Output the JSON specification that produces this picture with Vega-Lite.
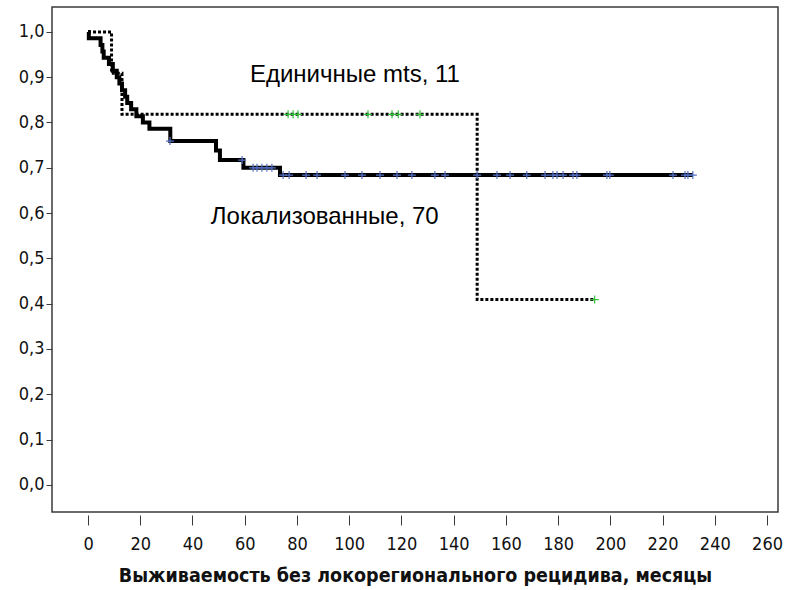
{
  "$schema": "https://vega.github.io/schema/vega-lite/v6.json",
  "width": 726,
  "height": 505,
  "autosize": {"type": "none"},
  "padding": {"left": 52, "top": 7, "right": 9, "bottom": 78},
  "background": "white",
  "config": {
    "view": {"stroke": "#3a3a3a", "strokeWidth": 1.5},
    "font": "DejaVu Sans Condensed, Liberation Sans, sans-serif",
    "axis": {"labelFont": "DejaVu Sans Condensed, Liberation Sans, sans-serif", "titleFont": "DejaVu Sans Condensed, Liberation Sans, sans-serif", "grid": false, "domain": false, "tickColor": "#3a3a3a", "labelColor": "#111", "titleColor": "#111"}
  },
  "datasets": {
    "solid": [
      {"t": 0, "s": 1.0}, {"t": 0.3, "s": 0.986}, {"t": 4.8, "s": 0.971}, {"t": 5.5, "s": 0.957},
      {"t": 6, "s": 0.943}, {"t": 8, "s": 0.929}, {"t": 9.5, "s": 0.914}, {"t": 11, "s": 0.9},
      {"t": 12, "s": 0.886}, {"t": 13, "s": 0.871}, {"t": 14.2, "s": 0.857}, {"t": 15, "s": 0.843},
      {"t": 16.5, "s": 0.829}, {"t": 18.5, "s": 0.814}, {"t": 21, "s": 0.8}, {"t": 23.5, "s": 0.786},
      {"t": 31.5, "s": 0.759}, {"t": 49, "s": 0.738}, {"t": 50.5, "s": 0.717}, {"t": 59.5, "s": 0.7},
      {"t": 73.5, "s": 0.684}, {"t": 231.6, "s": 0.684}
    ],
    "dotted": [
      {"t": 0, "s": 1.0}, {"t": 9, "s": 0.909}, {"t": 13, "s": 0.818}, {"t": 149, "s": 0.409}, {"t": 194, "s": 0.409}
    ],
    "cens": [
      {"g": "solid", "t": 31.4, "s": 0.759},
      {"g": "solid", "t": 59, "s": 0.717},
      {"g": "solid", "t": 63.2, "s": 0.7}, {"g": "solid", "t": 64.7, "s": 0.7}, {"g": "solid", "t": 66.6, "s": 0.7},
      {"g": "solid", "t": 68.5, "s": 0.7}, {"g": "solid", "t": 70.4, "s": 0.7},
      {"g": "solid", "t": 74.7, "s": 0.684}, {"g": "solid", "t": 77.0, "s": 0.684}, {"g": "solid", "t": 83.5, "s": 0.684},
      {"g": "solid", "t": 87.7, "s": 0.684}, {"g": "solid", "t": 98.4, "s": 0.684}, {"g": "solid", "t": 104.9, "s": 0.684},
      {"g": "solid", "t": 111.8, "s": 0.684}, {"g": "solid", "t": 118.3, "s": 0.684}, {"g": "solid", "t": 124, "s": 0.684},
      {"g": "solid", "t": 132.8, "s": 0.684}, {"g": "solid", "t": 136.7, "s": 0.684}, {"g": "solid", "t": 149, "s": 0.684},
      {"g": "solid", "t": 156.6, "s": 0.684}, {"g": "solid", "t": 161.6, "s": 0.684}, {"g": "solid", "t": 168, "s": 0.684},
      {"g": "solid", "t": 175, "s": 0.684}, {"g": "solid", "t": 178, "s": 0.684}, {"g": "solid", "t": 179.6, "s": 0.684},
      {"g": "solid", "t": 181.9, "s": 0.684}, {"g": "solid", "t": 185.7, "s": 0.684}, {"g": "solid", "t": 187.2, "s": 0.684},
      {"g": "solid", "t": 198.7, "s": 0.684}, {"g": "solid", "t": 199.8, "s": 0.684}, {"g": "solid", "t": 224, "s": 0.684},
      {"g": "solid", "t": 228.6, "s": 0.684}, {"g": "solid", "t": 229.7, "s": 0.684}, {"g": "solid", "t": 231.6, "s": 0.684},
      {"g": "dotted", "t": 76.6, "s": 0.818}, {"g": "dotted", "t": 78.5, "s": 0.818}, {"g": "dotted", "t": 80.4, "s": 0.818},
      {"g": "dotted", "t": 107.2, "s": 0.818}, {"g": "dotted", "t": 116.4, "s": 0.818}, {"g": "dotted", "t": 118.8, "s": 0.818},
      {"g": "dotted", "t": 127.1, "s": 0.818}, {"g": "dotted", "t": 194, "s": 0.409}
    ],
    "labels": [
      {"t": 62, "s": 0.905, "txt": "Единичные mts, 11"},
      {"t": 47, "s": 0.592, "txt": "Локализованные, 70"}
    ]
  },
  "layer": [
    {
      "data": {"name": "dotted"},
      "mark": {"type": "line", "interpolate": "step-after", "color": "#000", "strokeWidth": 3, "strokeDash": [3, 2], "strokeCap": "butt"},
      "encoding": {
        "x": {"field": "t", "type": "quantitative", "scale": {"domain": [-13.8, 264.2], "nice": false, "zero": false},
          "axis": {"values": [0, 20, 40, 60, 80, 100, 120, 140, 160, 180, 200, 220, 240, 260], "offset": 3, "tickSize": 10, "labelFontSize": 18, "labelPadding": 10,
            "title": "Выживаемость без локорегионального рецидива, месяцы", "titleFontSize": 19.5, "titleFontWeight": "bold", "titlePadding": 13}},
        "y": {"field": "s", "type": "quantitative", "scale": {"domain": [-0.06, 1.055], "nice": false, "zero": false},
          "axis": {"values": [0, 0.1, 0.2, 0.3, 0.4, 0.5, 0.6, 0.7, 0.8, 0.9, 1.0], "tickSize": 6, "labelFontSize": 18, "labelPadding": 2,
            "labelExpr": "replace(format(datum.value, '.1f'), '.', ',')", "title": null}}
      }
    },
    {
      "data": {"name": "solid"},
      "mark": {"type": "line", "interpolate": "step-after", "color": "#000", "strokeWidth": 4},
      "encoding": {
        "x": {"field": "t", "type": "quantitative"},
        "y": {"field": "s", "type": "quantitative"}
      }
    },
    {
      "data": {"name": "cens"},
      "mark": {"type": "point", "shape": "M-1,0H1M0,-1V1", "filled": false, "strokeWidth": 1.2, "size": 64, "opacity": 1},
      "encoding": {
        "x": {"field": "t", "type": "quantitative"},
        "y": {"field": "s", "type": "quantitative"},
        "color": {"field": "g", "type": "nominal", "scale": {"domain": ["solid", "dotted"], "range": ["#5470c6", "#35c23a"]}, "legend": null}
      }
    },
    {
      "data": {"name": "labels"},
      "mark": {"type": "text", "align": "left", "baseline": "middle", "font": "Liberation Sans", "fontSize": 24, "color": "#000"},
      "encoding": {
        "x": {"field": "t", "type": "quantitative"},
        "y": {"field": "s", "type": "quantitative"},
        "text": {"field": "txt"}
      }
    }
  ]
}
